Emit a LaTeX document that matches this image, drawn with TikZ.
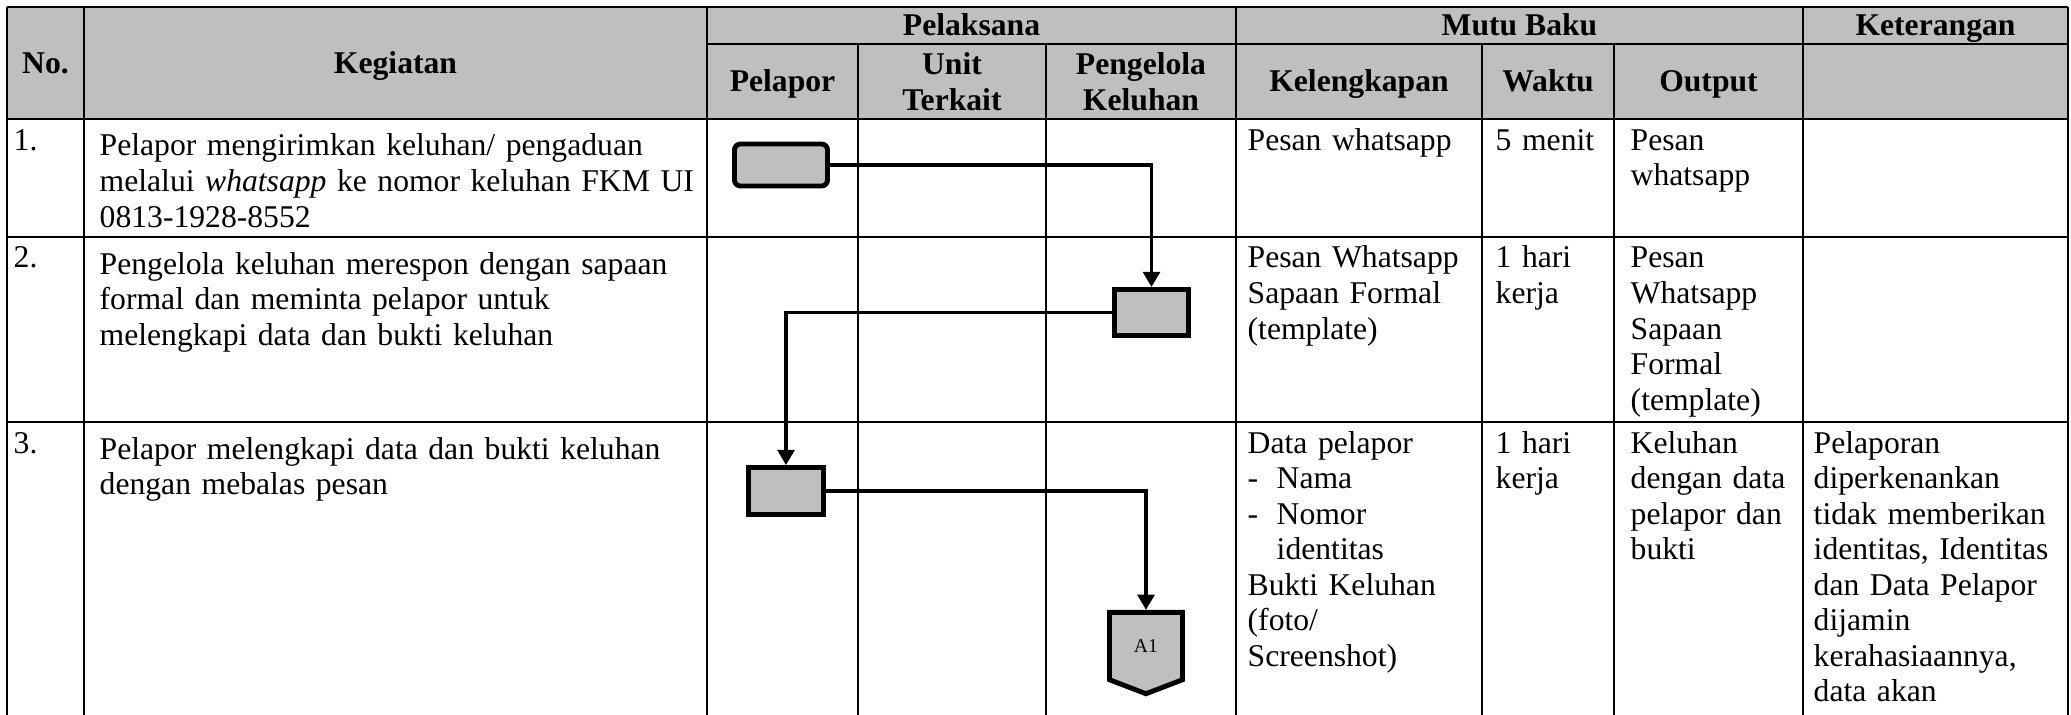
\documentclass[tikz,border=0pt]{standalone}
\usepackage{fontspec}
\setmainfont{Liberation Serif}
\usetikzlibrary{arrows.meta,shapes.symbols}
\definecolor{headGray}{RGB}{191,191,191}
\newcommand\cellfont{\fontsize{9}{10.1}\selectfont}

\begin{document}
\begin{tikzpicture}[x=0.01cm, y=-0.01cm,
  grid/.style={line width=0.6pt},
  head/.style={font=\cellfont\bfseries, align=center, inner sep=0pt},
  head1/.style={head, text height=1.5ex, text depth=.25ex},
  txt/.style={font=\cellfont, anchor=base west, inner sep=0pt, align=left, text width=#1}, txt/.default=1cm,
  proc/.style={draw, line width=1.4pt, fill=headGray, inner sep=0pt},
  flow/.style={line width=0.9pt, -{Triangle[length=4.3pt, width=4.8pt]}}]
\useasboundingbox (0,0) rectangle (2071,715);
\fill[headGray] (7,7) rectangle (2068,119);
\foreach \x in {7,84,707,1236,1803,2068} \draw[grid] (\x,7) -- (\x,715);
\foreach \x in {858,1046,1482,1614} \draw[grid] (\x,44) -- (\x,715);
\draw[grid] (707,44) -- (2068,44);
\foreach \y in {7,119,237,422} \draw[grid] (7,\y) -- (2068,\y);
\node[head1] (hNo) at (45.5,63) {No.};
\node[head1] (hKeg) at (395.5,63) {Kegiatan};
\node[head1] (hPel) at (971.5,25.5) {Pelaksana};
\node[head1] (hMutu) at (1519.5,25.5) {Mutu Baku};
\node[head1] (hKet) at (1935.5,25.5) {Keterangan};
\foreach \x/\t [count=\i] in {782.5/Pelapor, 1359/Kelengkapan, 1548/Waktu, 1708.5/Output}
  \node[head1] (sub\i) at (\x,81.5) {\t};
\node[head] (hUnit) at (952,81.5) {Unit\\Terkait};
\node[head] (hPeng) at (1141,81.5) {Pengelola\\Keluhan};
\node[txt] (no1) at (13,150) {1.};
\node[txt] (no2) at (13,268) {2.};
\node[txt] (no3) at (13,453) {3.};
\node[txt=6.3cm] (keg1) at (99,156) {Pelapor mengirimkan keluhan/ pengaduan\\melalui \textit{whatsapp} ke nomor keluhan FKM UI\\0813-1928-8552};
\node[txt=6.3cm] (keg2) at (99,274) {Pengelola keluhan merespon dengan sapaan\\formal dan meminta pelapor untuk\\melengkapi data dan bukti keluhan};
\node[txt=6.3cm] (keg3) at (99,459) {Pelapor melengkapi data dan bukti keluhan\\dengan mebalas pesan};
\node[txt=2.4cm] (kel1) at (1247,150) {Pesan whatsapp};
\node[txt=2.4cm] (kel2) at (1247,268) {Pesan Whatsapp\\Sapaan Formal\\(template)};
\node[txt=2.4cm] (kel3) at (1247,453) {Data pelapor\\\makebox[0.29cm][l]{-}Nama\\\makebox[0.29cm][l]{-}Nomor\\\hspace*{0.29cm}identitas\\Bukti Keluhan\\(foto/\\Screenshot)};
\node[txt=1.3cm] (wkt1) at (1495,150) {5 menit};
\node[txt=1.3cm] (wkt2) at (1495,268) {1 hari\\kerja};
\node[txt=1.3cm] (wkt3) at (1495,453) {1 hari\\kerja};
\node[txt=1.9cm] (out1) at (1630,150) {Pesan\\whatsapp};
\node[txt=1.9cm] (out2) at (1630,268) {Pesan\\Whatsapp\\Sapaan\\Formal\\(template)};
\node[txt=1.9cm] (out3) at (1630,453) {Keluhan\\dengan data\\pelapor dan\\bukti};
\node[txt=2.7cm] (ket3) at (1813,453) {Pelaporan\\diperkenankan\\tidak memberikan\\identitas, Identitas\\dan Data Pelapor\\dijamin\\kerahasiaannya,\\data akan};
\node[proc, rounded corners=0.06cm, minimum width=0.93cm, minimum height=0.42cm] (start) at (781,165) {};
\node[proc, minimum width=0.74cm, minimum height=0.46cm] (respon) at (1151.5,312.5) {};
\node[proc, minimum width=0.75cm, minimum height=0.47cm] (lengkap) at (786,491) {};
\node[proc, signal, signal to=south, signal pointer angle=138, minimum width=0.73cm, minimum height=0.72cm, font=\fontsize{5.6}{6}\selectfont] (a1) at (1146,646) {A1};
\draw[flow] (start.east) -| (respon.north);
\draw[flow] (respon.west) -| (lengkap.north);
\draw[flow] (lengkap.east) -| (a1.north);
\end{tikzpicture}
\end{document}
